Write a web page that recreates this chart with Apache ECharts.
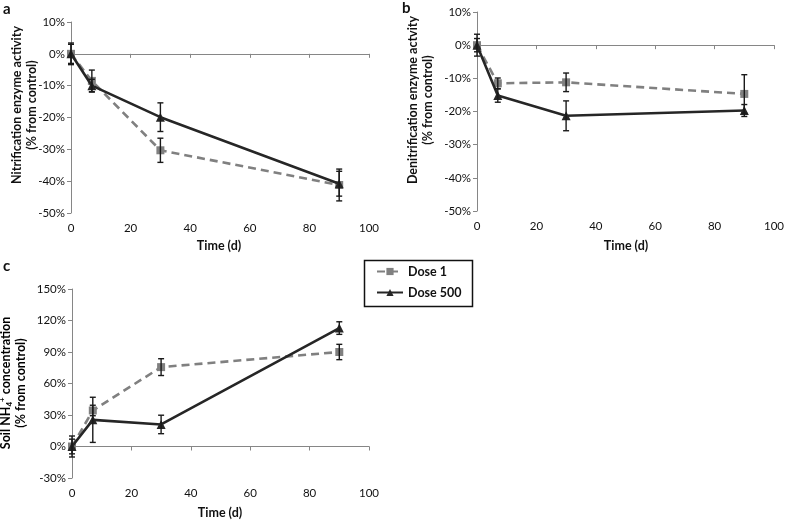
<!DOCTYPE html>
<html><head><meta charset="utf-8">
<script src="https://cdn.jsdelivr.net/npm/echarts@6/dist/echarts.min.js"></script>
<style>html,body{margin:0;padding:0;background:#fff}#c{width:787px;height:520px}</style>
</head><body><div id="c"></div>
<script>
// ---- data ----
const days = [0, 7, 30, 90];
const seriesNames = ['Dose 1', 'Dose 500'];
const panelLetters = ['a', 'b', 'c'];
const xTitle = 'Time (d)';

const nitrifDose1 = [0, -8.5, -30.3, -41.2];
const nitrifDose1Err = [3.0, 3.4, 3.8, 5.0];
const nitrifDose500 = [0, -10.0, -19.9, -40.8];
const nitrifDose500Err = [3.4, 2.0, 4.5, 3.9];

const denitDose1 = [0, -11.5, -11.2, -14.7];
const denitDose1Err = [2.0, 1.6, 2.8, 5.8];
const denitDose500 = [0, -15.2, -21.3, -19.7];
const denitDose500Err = [3.3, 2.0, 4.5, 1.8];

const nh4Dose1 = [0, 34.3, 75.6, 90.0];
const nh4Dose1Err = [7, 5, 8, 7.3];
const nh4Dose500 = [0, 25.4, 21.0, 112.8];
const nh4Dose500Err = [10, 21.5, 8.8, 6];

const yRanges = [[-50, 10, 10], [-50, 10, 10], [-30, 150, 30]];
const xRange = [0, 100, 20];

// ---- styles ----
const FONT = 'Lato';
const TXT = '#111';
const AX = '#868686';
const C1 = '#808080';
const C2 = '#262626';

const grids = [
  {left: 71, top: 22, width: 298, height: 191},
  {left: 477, top: 12, width: 299, height: 199},
  {left: 72, top: 289, width: 297, height: 189}
];

const panels = [
  {d1: nitrifDose1, e1: nitrifDose1Err, d2: nitrifDose500, e2: nitrifDose500Err},
  {d1: denitDose1, e1: denitDose1Err, d2: denitDose500, e2: denitDose500Err},
  {d1: nh4Dose1, e1: nh4Dose1Err, d2: nh4Dose500, e2: nh4Dose500Err}
];

const xAxis = [], yAxis = [], series = [];
grids.forEach((g, i) => {
  xAxis.push({
    type: 'value', gridIndex: i, min: xRange[0], max: xRange[1], interval: xRange[2],
    axisLine: {show: false, onZero: false}, axisTick: {show: false}, splitLine: {show: false},
    axisLabel: {margin: 9, fontSize: 11.5, color: TXT, fontFamily: FONT}
  });
  xAxis.push({
    type: 'value', gridIndex: i, min: xRange[0], max: xRange[1], interval: xRange[2],
    axisLine: {show: true, onZero: true, lineStyle: {color: AX, width: 1}},
    axisTick: {show: true, inside: true, length: 4, lineStyle: {color: AX}},
    axisLabel: {show: false}, splitLine: {show: false}
  });
  const r = yRanges[i];
  yAxis.push({
    type: 'value', gridIndex: i, min: r[0], max: r[1], interval: r[2],
    axisLine: {show: true, lineStyle: {color: AX, width: 1}},
    axisTick: {show: true, length: 4, lineStyle: {color: AX}},
    splitLine: {show: false},
    axisLabel: {formatter: '{value}%', margin: 6, fontSize: 11.5, color: TXT, fontFamily: FONT}
  });
  const p = panels[i];
  const errRender = (params, api) => {
    const x = api.value(0), lo = api.value(1), hi = api.value(2);
    const a = api.coord([x, lo]), b = api.coord([x, hi]);
    const w = 3;
    const st = {stroke: '#1a1a1a', lineWidth: 1.4};
    return {type: 'group', children: [
      {type: 'line', shape: {x1: a[0], y1: a[1], x2: b[0], y2: b[1]}, style: st},
      {type: 'line', shape: {x1: a[0] - w, y1: a[1], x2: a[0] + w, y2: a[1]}, style: st},
      {type: 'line', shape: {x1: b[0] - w, y1: b[1], x2: b[0] + w, y2: b[1]}, style: st}
    ]};
  };
  series.push({
    name: seriesNames[0], type: 'line', xAxisIndex: 2 * i, yAxisIndex: i,
    data: days.map((d, k) => [d, p.d1[k]]),
    symbol: 'rect', symbolSize: 8, color: C1,
    lineStyle: {color: C1, width: 2.6, type: [8, 5]}, itemStyle: {color: C1}, z: 2
  });
  series.push({
    name: seriesNames[1], type: 'line', xAxisIndex: 2 * i, yAxisIndex: i,
    data: days.map((d, k) => [d, p.d2[k]]),
    symbol: 'triangle', symbolSize: 9, color: C2,
    lineStyle: {color: C2, width: 2.6}, itemStyle: {color: C2}, z: 3
  });
  series.push({
    type: 'custom', xAxisIndex: 2 * i, yAxisIndex: i, z: 4, silent: true,
    data: days.map((d, k) => [d, p.d1[k] - p.e1[k], p.d1[k] + p.e1[k]]),
    encode: {x: 0, y: [1, 2]}, renderItem: errRender
  });
  series.push({
    type: 'custom', xAxisIndex: 2 * i, yAxisIndex: i, z: 4, silent: true,
    data: days.map((d, k) => [d, p.d2[k] - p.e2[k], p.d2[k] + p.e2[k]]),
    encode: {x: 0, y: [1, 2]}, renderItem: errRender
  });
});

const titleStyle = {fontFamily: FONT, fontWeight: 'bold', fontSize: 12.5, fill: TXT, lineHeight: 15};
const rich = {
  t: {fontFamily: FONT, fontWeight: 'bold', fontSize: 12.5, color: TXT, lineHeight: 15},
  sub: {fontFamily: FONT, fontWeight: 'bold', fontSize: 8, color: TXT, verticalAlign: 'bottom', lineHeight: 15},
  sup: {fontFamily: FONT, fontWeight: 'bold', fontSize: 8, color: TXT, verticalAlign: 'top', lineHeight: 15}
};

const graphic = [
  {type: 'text', x: 3, y: 2, style: {text: panelLetters[0], font: 'bold 15px ' + FONT, fill: TXT}},
  {type: 'text', x: 402, y: 1, style: {text: panelLetters[1], font: 'bold 15px ' + FONT, fill: TXT}},
  {type: 'text', x: 3, y: 259, style: {text: panelLetters[2], font: 'bold 15px ' + FONT, fill: TXT}},
  {type: 'text', x: 24.5, y: 105, rotation: Math.PI / 2,
    style: Object.assign({text: 'Nitrification enzyme activity\n(% from control)', align: 'center', verticalAlign: 'middle'}, titleStyle)},
  {type: 'text', x: 420.5, y: 100, rotation: Math.PI / 2,
    style: Object.assign({text: 'Denitrification enzyme actvity\n(% from control)', align: 'center', verticalAlign: 'middle'}, titleStyle)},
  {type: 'text', x: 13, y: 383, rotation: Math.PI / 2,
    style: {text: '{t|Soil NH}{sub|4}{sup|+}{t| concentration}\n{t|(% from control)}', rich: rich, align: 'center', verticalAlign: 'middle'}},
  {type: 'text', x: 219, y: 246, style: Object.assign({text: xTitle, align: 'center', verticalAlign: 'middle'}, titleStyle)},
  {type: 'text', x: 626, y: 246, style: Object.assign({text: xTitle, align: 'center', verticalAlign: 'middle'}, titleStyle)},
  {type: 'text', x: 220, y: 513, style: Object.assign({text: xTitle, align: 'center', verticalAlign: 'middle'}, titleStyle)},
  {type: 'rect', shape: {x: 364.5, y: 260.5, width: 108, height: 46}, style: {fill: '#fff', stroke: '#111', lineWidth: 1.5}, z: 1}
];

const chart = echarts.init(document.getElementById('c'), null, {renderer: 'canvas'});
chart.setOption({
  animation: false,
  backgroundColor: '#fff',
  grid: grids,
  xAxis: xAxis,
  yAxis: yAxis,
  series: series,
  graphic: graphic,
  legend: {
    data: seriesNames, orient: 'vertical', left: 376, top: 265, padding: 0,
    itemWidth: 26, itemHeight: 9, itemGap: 8, z: 10,
    textStyle: {fontFamily: FONT, fontWeight: 'bold', fontSize: 12.5, color: TXT}
  }
});
</script></body></html>
